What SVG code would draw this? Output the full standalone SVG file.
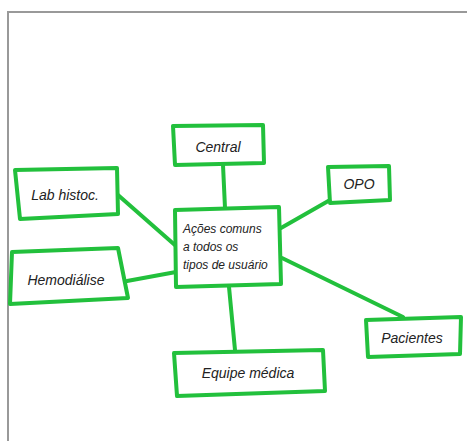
<svg xmlns="http://www.w3.org/2000/svg" width="467" height="441" viewBox="0 0 467 441">
<style>
.box{fill:#fff;stroke:#22c03c;stroke-width:4;stroke-linejoin:round}
.edge{stroke:#22c03c;stroke-width:4;stroke-linecap:round;fill:none}
text{font-family:"Liberation Sans",Arial,sans-serif;font-size:14px;fill:#222;font-style:italic}
.c{font-size:12px}
</style>
<rect width="467" height="441" fill="#fff"/>
<path d="M8,441 V12 H467" fill="none" stroke="#999" stroke-width="2"/>
<g id="connectors">
<line class="edge" x1="223" y1="165" x2="225" y2="208"/>
<line class="edge" x1="118" y1="195" x2="176" y2="246"/>
<line class="edge" x1="127" y1="281" x2="176" y2="272"/>
<line class="edge" x1="330" y1="200" x2="281" y2="228"/>
<line class="edge" x1="282" y1="258" x2="403" y2="317"/>
<line class="edge" x1="229" y1="287" x2="235" y2="350"/>
</g>
<g id="central">
<path class="box" d="M173,126 L263,125 L264,163 L175,165 Z"/>
<text x="218" y="152" text-anchor="middle">Central</text>
</g>
<g id="lab">
<path class="box" d="M15,170 L117,168 L118,214 L20,219 Z"/>
<text x="65" y="200" text-anchor="middle">Lab histoc.</text>
</g>
<g id="opo">
<path class="box" d="M328,167 L389,166 L390,200 L330,203 Z"/>
<text x="359" y="189" text-anchor="middle">OPO</text>
</g>
<g id="center">
<path class="box" d="M175,210 L279,207 L281,284 L176,287 Z"/>
<text class="c" x="183" y="233">Ações comuns</text>
<text class="c" x="183" y="251">a todos os</text>
<text class="c" x="183" y="269">tipos de usuário</text>
</g>
<g id="hemo">
<path class="box" d="M12,252 L118,248 L128,298 L10,304 Z"/>
<text x="66" y="285" text-anchor="middle">Hemodiálise</text>
</g>
<g id="pacientes">
<path class="box" d="M366,320 L461,317 L460,354 L368,357 Z"/>
<text x="412" y="343" text-anchor="middle">Pacientes</text>
</g>
<g id="equipe">
<path class="box" d="M174,353 L323,350 L325,391 L177,396 Z"/>
<text x="248" y="378" text-anchor="middle" font-size="15">Equipe médica</text>
</g>
</svg>
